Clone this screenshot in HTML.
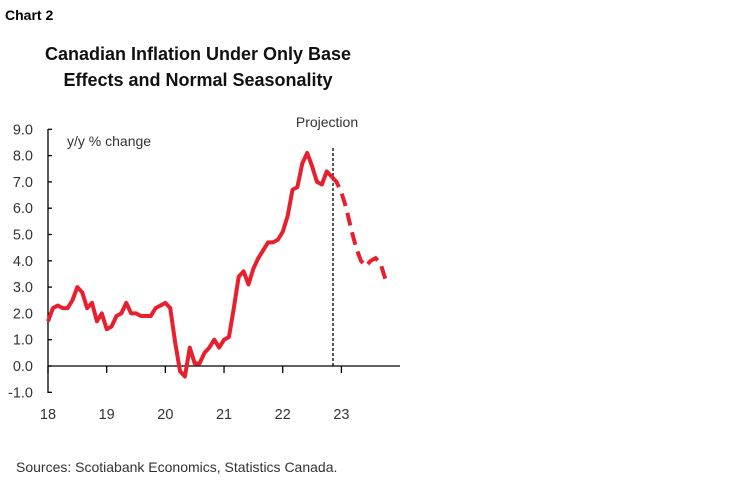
<!DOCTYPE html>
<html><head><meta charset="utf-8"><style>
body{margin:0;background:#fff;width:750px;height:482px;overflow:hidden;font-family:"Liberation Sans",sans-serif}
</style></head><body>
<svg width="750" height="482" xmlns="http://www.w3.org/2000/svg" font-family="Liberation Sans, sans-serif">
<text x="5" y="20" font-size="14" font-weight="bold" fill="#000">Chart 2</text>
<text x="198" y="60" font-size="18" font-weight="bold" text-anchor="middle" fill="#111">Canadian Inflation Under Only Base</text>
<text x="198" y="86" font-size="18" font-weight="bold" text-anchor="middle" fill="#111">Effects and Normal Seasonality</text>
<g font-size="14.5" fill="#333" text-anchor="end" id="yl"></g>
<g font-size="14.5" fill="#333" text-anchor="middle" id="xl"></g>
<text x="67" y="146" font-size="14" fill="#333">y/y % change</text>
<text x="327" y="127" font-size="14" fill="#333" text-anchor="middle">Projection</text>
<line x1="48" y1="129" x2="48" y2="393" stroke="#000" stroke-width="1.3"/>
<line x1="48" y1="366" x2="400" y2="366" stroke="#000" stroke-width="1.3"/>
<g id="ticks" stroke="#000" stroke-width="1.3"></g>
<line x1="333" y1="148" x2="333" y2="366" stroke="#000" stroke-width="1.3" stroke-dasharray="3,2"/>
<polyline id="solid" fill="none" stroke="#e8202e" stroke-width="4" stroke-linejoin="round"/>
<polyline id="dash" fill="none" stroke="#e8202e" stroke-width="4" stroke-dasharray="13,7"/>
<text x="16" y="472" font-size="14" fill="#333">Sources: Scotiabank Economics, Statistics Canada.</text>
</svg>
<script>
var ns="http://www.w3.org/2000/svg";
function Y(v){return 366-26.3*v}
function X(m){return 48+4.89*m}
var yl=document.getElementById('yl'),tk=document.getElementById('ticks'),xl=document.getElementById('xl');
for(var v=-1;v<=9;v++){var t=document.createElementNS(ns,'text');t.setAttribute('x',33);t.setAttribute('y',Y(v)+5);t.textContent=v.toFixed(1);yl.appendChild(t);
var l=document.createElementNS(ns,'line');l.setAttribute('x1',48);l.setAttribute('x2',52);l.setAttribute('y1',Y(v));l.setAttribute('y2',Y(v));tk.appendChild(l);}
for(var i=0;i<6;i++){var x=X(12*i);var t=document.createElementNS(ns,'text');t.setAttribute('x',x);t.setAttribute('y',419);t.textContent=18+i;xl.appendChild(t);
var l=document.createElementNS(ns,'line');l.setAttribute('x1',x);l.setAttribute('x2',x);l.setAttribute('y1',366);l.setAttribute('y2',373);tk.appendChild(l);}
var s=[1.7,2.2,2.3,2.2,2.2,2.5,3.0,2.8,2.2,2.4,1.7,2.0,1.4,1.5,1.9,2.0,2.4,2.0,2.0,1.9,1.9,1.9,2.2,2.3,2.4,2.2,0.9,-0.2,-0.4,0.7,0.1,0.1,0.5,0.7,1.0,0.7,1.0,1.1,2.2,3.4,3.6,3.1,3.7,4.1,4.4,4.7,4.7,4.8,5.1,5.7,6.7,6.8,7.7,8.1,7.6,7.0,6.9,7.4,7.2];
var d=[7.2,7.0,6.6,6.0,5.2,4.5,4.0,3.8,4.0,4.1,3.9,3.3,3.2];
document.getElementById('solid').setAttribute('points',s.map(function(v,i){return X(i)+','+Y(v)}).join(' '));
document.getElementById('dash').setAttribute('points',d.map(function(v,i){return X(58+i)+','+Y(v)}).join(' '));
</script>
</body></html>
